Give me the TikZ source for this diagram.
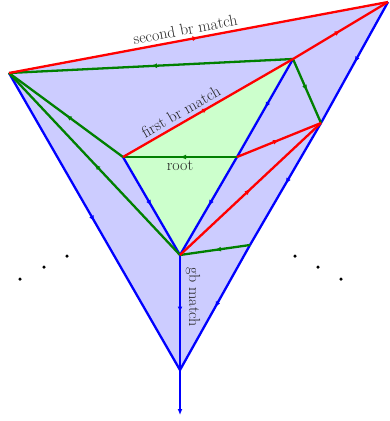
\documentclass[tikz,border=0pt]{standalone}
\usetikzlibrary{arrows.meta,decorations.markings}
\begin{document}
\begin{tikzpicture}[x=1pt,y=-1pt,
  edge/.style={line width=2.3pt},
  bl/.style={edge,draw=blue},
  rd/.style={edge,draw=red},
  gr/.style={edge,draw=green!50!black},
  mid/.style={postaction={decorate,decoration={markings,
      mark=at position 0.5 with {\arrow{Latex[length=6pt,width=5pt]}}}}},
  lbl/.style={font=\fontsize{16}{19}\selectfont, text=black!85, inner sep=1pt},
  dot/.style={circle,fill=black,inner sep=0pt,minimum size=3.5pt}]
\useasboundingbox (0,0) rectangle (390,421);
\coordinate (A) at (9,73);
\coordinate (B) at (388,2);
\coordinate (C) at (180,370);
\coordinate (D) at (180,415);
\coordinate (E) at (180,255);
\coordinate (F) at (123,157);
\coordinate (G) at (293,59);
\coordinate (H) at (321,123);
\coordinate (I) at (237,157);
\coordinate (J) at (250,245);
% fills
\fill[blue!20] (A) -- (B) -- (C) -- cycle;
\fill[green!20] (F) -- (G) -- (E) -- cycle;
% blue
\draw[bl,mid] (A) -- (C);
\draw[bl,mid] (B) -- (H);
\draw[bl,mid] (H) -- (J);
\draw[bl,mid] (J) -- (C);
\draw[bl,mid] (G) -- (I);
\draw[bl,mid] (I) -- (E);
\draw[bl,mid] (F) -- (E);
\draw[bl,mid] (E) -- (C);
\draw[bl,-{Latex[length=6pt,width=5pt]}] (C) -- (D);
% green
\draw[gr,mid] (G) -- (A);
\draw[gr,mid] (F) -- (A);
\draw[gr,mid] (E) -- (A);
\draw[gr,mid] (I) -- (F);
\draw[gr,mid] (G) -- (H);
\draw[gr,mid] (J) -- (E);
% red
\draw[rd,mid] (A) -- node[lbl,sloped,above=2.5pt,pos=0.47] (l2) {second br match} (B);
\draw[rd,mid] (G) -- (B);
\draw[rd,mid] (F) -- node[lbl,sloped,above=2.5pt,pos=0.37] (l1) {first br match} (G);
\draw[rd,mid] (I) -- (H);
\draw[rd,mid] (E) -- (H);
% labels
\node[lbl,below=2.5pt] (lr) at (180,157) {root};
\node[lbl,rotate=-90] (lg) at (193,297) {gb match};
% dots
\node[dot] (d1) at (20,279) {};
\node[dot] (d2) at (44,267) {};
\node[dot] (d3) at (67,256) {};
\node[dot] (d4) at (295,256) {};
\node[dot] (d5) at (318,267) {};
\node[dot] (d6) at (341,279) {};
\end{tikzpicture}
\end{document}
